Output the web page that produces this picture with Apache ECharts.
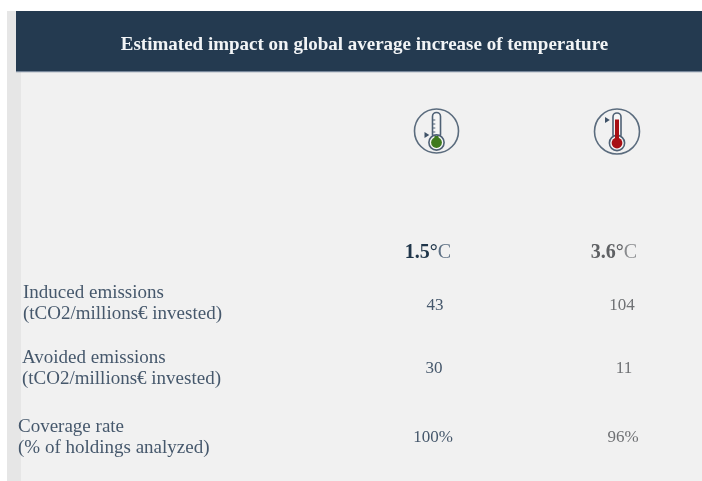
<!DOCTYPE html>
<html>
<head>
<meta charset="utf-8">
<style>html,body{margin:0;padding:0;background:#fff}#chart{width:702px;height:481px}</style>
<script src="https://cdn.jsdelivr.net/npm/echarts@6/dist/echarts.min.js"></script>
</head>
<body>
<div id="chart"></div>
<script>
const titleText = 'Estimated impact on global average increase of temperature';
const scenarios = ['1.5', '3.6'];
const rowNames = [
  ['Induced emissions', '(tCO2/millions€ invested)'],
  ['Avoided emissions', '(tCO2/millions€ invested)'],
  ['Coverage rate', '(% of holdings analyzed)']
];
const lowScenarioValues = ['43', '30', '100%'];
const highScenarioValues = ['104', '11', '96%'];

const NAVY = '#1f3549';
const SLATE = '#46586c';
const GREY = '#6f7174';
const SERIF = '"Liberation Serif", serif';

// Vertical nudges per table row and horizontal nudges per column cell.
const rowNudge = [1, -8, -7, 0];
const cellNudgeLow = [-6, 1, 0, -1];
const cellNudgeHigh = [-9, -1, 1, 0];

function columnSeries(name, col, heading, values, colour, headingColour, unitColour, nudges) {
  const data = [{ value: [col, 0], heading: true, text: heading }]
    .concat(values.map((v, i) => ({ value: [col, i + 1], text: v })));
  return {
    name, type: 'scatter', symbolSize: 0, silent: true, clip: false,
    itemStyle: { opacity: 1 },
    data: data.map((d, i) => ({
      value: d.value,
      label: d.heading ? {
        show: true, position: 'inside', offset: [nudges[0], rowNudge[0]],
        formatter: '{b|' + d.text + '°}{c|C}',
        rich: {
          b: { fontFamily: SERIF, fontWeight: 'bold', fontSize: 20, color: headingColour },
          c: { fontFamily: SERIF, fontSize: 20, color: unitColour }
        }
      } : {
        show: true, position: 'inside', offset: [nudges[i], rowNudge[i]],
        formatter: d.text, fontFamily: SERIF, fontSize: 17, color: colour
      }
    }))
  };
}

// Round thermometer badge: ring, glass tube, bulb, liquid, level marker.
function thermometer(cx, cy, r, liquid, topOfLiquid, markerY, ticks) {
  const line = { stroke: '#4f6175', lineWidth: 1.6, fill: '#f6f6f6' };
  const children = [
    { type: 'circle', shape: { cx, cy, r }, style: { stroke: '#5b6c7e', lineWidth: 1.6, fill: 'transparent' } },
    { type: 'rect', shape: { x: cx - 4, y: cy - 18.5, width: 8, height: 26, r: 4 }, style: line },
    { type: 'circle', shape: { cx, cy: cy + 11.5, r: 7.6 }, style: { stroke: '#4f6175', lineWidth: 1.6, fill: '#f6f6f6' } },
    { type: 'rect', shape: { x: cx - 2, y: topOfLiquid, width: 4, height: cy + 11 - topOfLiquid }, style: { fill: liquid } },
    { type: 'circle', shape: { cx, cy: cy + 11.5, r: 5.4 }, style: { fill: liquid } },
    { type: 'polygon', shape: { points: [[cx - 12, markerY - 3], [cx - 12, markerY + 3], [cx - 7.2, markerY]] }, style: { fill: '#3f5267' } }
  ];
  ticks.forEach(dy => children.push({
    type: 'line', shape: { x1: cx - 4, y1: cy + dy, x2: cx - 1.2, y2: cy + dy },
    style: { stroke: '#4f6175', lineWidth: 1 }
  }));
  return { type: 'group', silent: true, children };
}

const rowLabelPlacement = [
  { x: 23, y: 304 }, { x: 22, y: 369 }, { x: 18, y: 438 }
];

const panels = [
  { type: 'rect', z: -3, shape: { x: 7, y: 11, width: 695, height: 470 }, style: { fill: '#e6e6e6' } },
  { type: 'rect', z: -2, shape: { x: 21, y: 72, width: 681, height: 409 }, style: { fill: '#f1f1f1' } },
  { type: 'rect', z: -1, shape: { x: 16, y: 11, width: 686, height: 60 }, style: { fill: '#243a50' } },
  { type: 'rect', z: -1, shape: { x: 16, y: 71, width: 686, height: 1.2 }, style: { fill: '#77879a' } }
];

const rowLabels = rowNames.map((lines, i) => ({
  type: 'text', silent: true,
  x: rowLabelPlacement[i].x, y: rowLabelPlacement[i].y,
  style: {
    text: lines.join('\n'), fontFamily: SERIF, fontSize: 19, lineHeight: 21,
    fill: SLATE, textAlign: 'left', textVerticalAlign: 'middle'
  }
}));

const chart = echarts.init(document.getElementById('chart'), null, { renderer: 'canvas' });
chart.setOption({
  animation: false,
  backgroundColor: '#ffffff',
  title: {
    text: titleText, left: 359.5, top: 31, textAlign: 'center',
    textStyle: { fontFamily: SERIF, fontWeight: 'bold', fontSize: 19, color: '#f2f4f6' }
  },
  grid: { left: 434, width: 189, top: 252, height: 186 },
  xAxis: { type: 'value', min: 0, max: 1, show: false },
  yAxis: { type: 'value', min: 0, max: 3, inverse: true, show: false },
  series: [
    columnSeries(scenarios[0], 0, scenarios[0], lowScenarioValues, SLATE, NAVY, '#5d7084', cellNudgeLow),
    columnSeries(scenarios[1], 1, scenarios[1], highScenarioValues, GREY, '#5f6164', '#8a8c8f', cellNudgeHigh)
  ],
  graphic: { elements: panels.concat(rowLabels, [
    thermometer(436.5, 131, 22, '#3f7a1e', 136, 135, [-11, -7, -3, 1]),
    thermometer(617, 131.5, 22.5, '#a80f14', 119.5, 120, [])
  ]) }
});
</script>
</body>
</html>
